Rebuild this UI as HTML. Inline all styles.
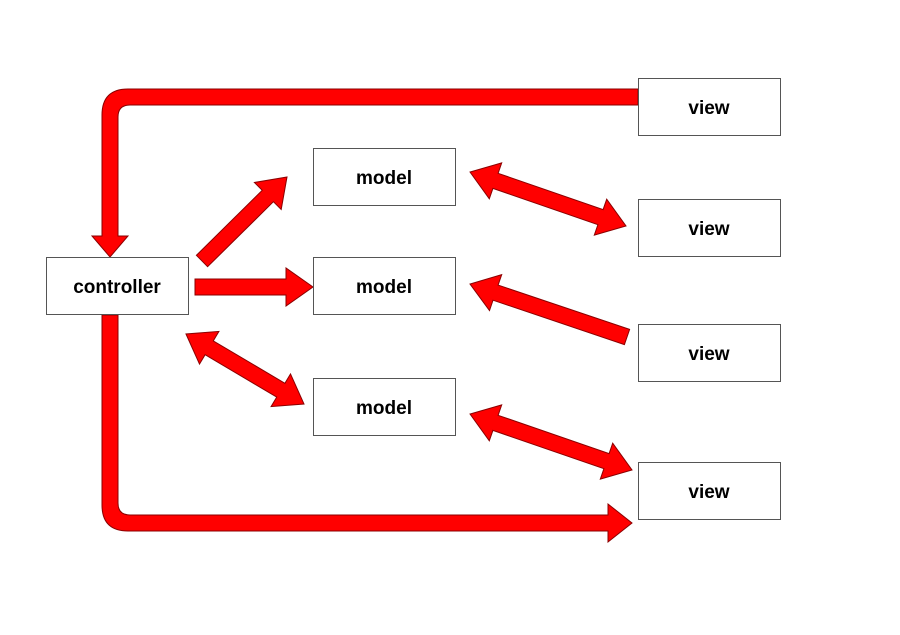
<!DOCTYPE html>
<html><head><style>
html,body{margin:0;padding:0;background:#fff;}
svg{display:block}
text{font-family:"Liberation Sans",sans-serif;font-weight:bold;font-size:19px;}
</style></head><body>
<svg id="s" width="900" height="635" xmlns="http://www.w3.org/2000/svg">
<path d="M638,89 L128,89 Q102,89 102,115 L102,236 L92,236 L110,257 L128,236 L118,236 L118,117 Q118,105 130,105 L638,105 Z" fill="#f00" stroke="#8a0000" stroke-width="1"/>
<path d="M102,315 L102,505 Q102,531 128,531 L608,531 L608,542 L632,523 L608,504 L608,515 L130,515 Q118,515 118,503 L118,315 Z" fill="#f00" stroke="#8a0000" stroke-width="1"/>
<g id="arrows"></g>
<g fill="#fff" stroke="#555" stroke-width="1">
<rect x="638.5" y="78.5" width="142" height="57"/>
<rect x="313.5" y="148.5" width="142" height="57"/>
<rect x="638.5" y="199.5" width="142" height="57"/>
<rect x="46.5" y="257.5" width="142" height="57"/>
<rect x="313.5" y="257.5" width="142" height="57"/>
<rect x="638.5" y="324.5" width="142" height="57"/>
<rect x="313.5" y="378.5" width="142" height="57"/>
<rect x="638.5" y="462.5" width="142" height="57"/>
</g>
<g text-anchor="middle" fill="#000">
<text x="709" y="114">view</text>
<text x="384" y="184">model</text>
<text x="709" y="235">view</text>
<text x="117" y="293">controller</text>
<text x="384" y="293">model</text>
<text x="709" y="360">view</text>
<text x="384" y="414">model</text>
<text x="709" y="498">view</text>
</g>
</svg>
<script>
function arrow(x1,y1,x2,y2,dbl){
 var dx=x2-x1,dy=y2-y1,L=Math.hypot(dx,dy),ux=dx/L,uy=dy/L,nx=-uy,ny=ux;
 var w=8,hw=19,hl=27,pts=[];
 function P(t,o){pts.push((x1+ux*t+nx*o).toFixed(1)+","+(y1+uy*t+ny*o).toFixed(1));}
 if(dbl){P(0,0);P(hl,hw);P(hl,w);}else{P(0,w);}
 P(L-hl,w);P(L-hl,hw);P(L,0);P(L-hl,-hw);P(L-hl,-w);
 if(dbl){P(hl,-w);P(hl,-hw);}else{P(0,-w);}
 var p=document.createElementNS("http://www.w3.org/2000/svg","polygon");
 p.setAttribute("points",pts.join(" "));p.setAttribute("fill","#f00");
 p.setAttribute("stroke","#8a0000");p.setAttribute("stroke-width","1");
 document.getElementById("arrows").appendChild(p);
}
arrow(202,261,287,177,false);
arrow(195,287,313,287,false);
arrow(186,334,304,404,true);
arrow(470,172,626,226,true);
arrow(627,337,470,284,false);
arrow(470,414,632,470,true);
</script>
</body></html>
